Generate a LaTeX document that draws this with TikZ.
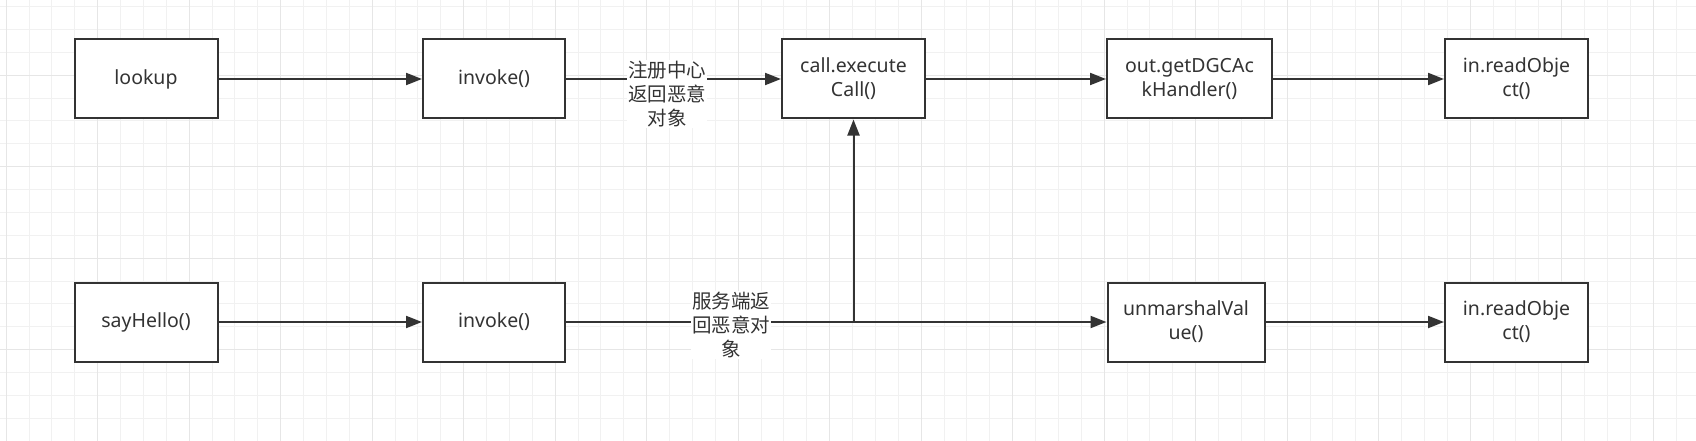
\documentclass[tikz,border=0pt]{standalone}
\usepackage{fontspec}
\setmainfont{Noto Sans}
\newfontfamily\cjk{Noto Sans CJK SC}
\usetikzlibrary{arrows.meta}
\definecolor{trait}{HTML}{333333}
\definecolor{grille}{HTML}{F1F1F1}
\definecolor{grillemaj}{HTML}{E6E6E6}
\tikzset{
    boite/.style={draw=trait,line width=2pt,fill=white,minimum height=79pt,inner sep=0pt,
      align=center,text=trait,font=\fontsize{19.5}{23.75}\selectfont},
    fleche/.style={draw=trait,line width=2pt,-{Triangle[length=16pt,width=12pt]}},
    etiquette/.style={fill=white,inner sep=1pt,align=center,text=trait,
      font=\cjk\fontsize{19.5}{23.75}\selectfont},
  }

\begin{document}
\begin{tikzpicture}[x=1pt,y=-1pt]
				  %FOND
				  \useasboundingbox (0,0) rectangle (1696,441);
				  \fill[white] (0,0) rectangle (1696,441);
				  \foreach \i in {0,...,73} \draw[grille,line width=1pt] ({6.2+22.875*\i},0) -- ++(0,441);
				  \foreach \j in {0,...,18} \draw[grille,line width=1pt] (0,{6.6+22.875*\j}) -- ++(1696,0);
				  \foreach \i in {0,...,18} \draw[grillemaj,line width=1pt] ({6.2+91.5*\i},0) -- ++(0,441);
				  \foreach \j in {0,...,3} \draw[grillemaj,line width=1pt] (0,{75.2+91.5*\j}) -- ++(1696,0);

				  %LIGNE 1
				  \node[boite,minimum width=143pt] (L) at (146,79) {lookup};
				  \node[boite,minimum width=142pt] (I_1) at (494,79) {invoke()};
				  \node[boite,minimum width=143pt] (E) at (853.5,79) {call.execute\\Call()};
				  \node[boite,minimum width=165pt] (D) at (1189.5,79) {out.getDGCAc\\kHandler()};
				  \node[boite,minimum width=143pt] (R_1) at (1516.5,79) {in.readObje\\ct()};

				  %LIGNE 2
				  \node[boite,minimum width=143pt] (S) at (146,322) {sayHello()};
				  \node[boite,minimum width=142pt] (I_2) at (494,322) {invoke()};
				  \node[boite,minimum width=157pt] (U) at (1186,322) {unmarshalVal\\ue()};
				  \node[boite,minimum width=143pt] (R_2) at (1516.5,322) {in.readObje\\ct()};

				  %FLECHES
				  \draw[fleche] (L) -- (I_1);
				  \draw[fleche] (I_1) -- (E);
				  \draw[fleche] (E) -- (D);
				  \draw[fleche] (D) -- (R_1);
				  \draw[fleche] (S) -- (I_2);
				  \draw[fleche] (I_2) -- (U);
				  \draw[fleche] (U) -- (R_2);
				  \coordinate (J) at (E.south |- I_2.east);
				  \draw[fleche] (I_2.east) -- (J) -- (E.south);

				  %ETIQUETTES
				  \node[etiquette] (T_1) at (667,94) {注册中心\\返回恶意\\对象};
				  \node[etiquette] (T_2) at (731,325) {服务端返\\回恶意对\\象};
\end{tikzpicture}
\end{document}
